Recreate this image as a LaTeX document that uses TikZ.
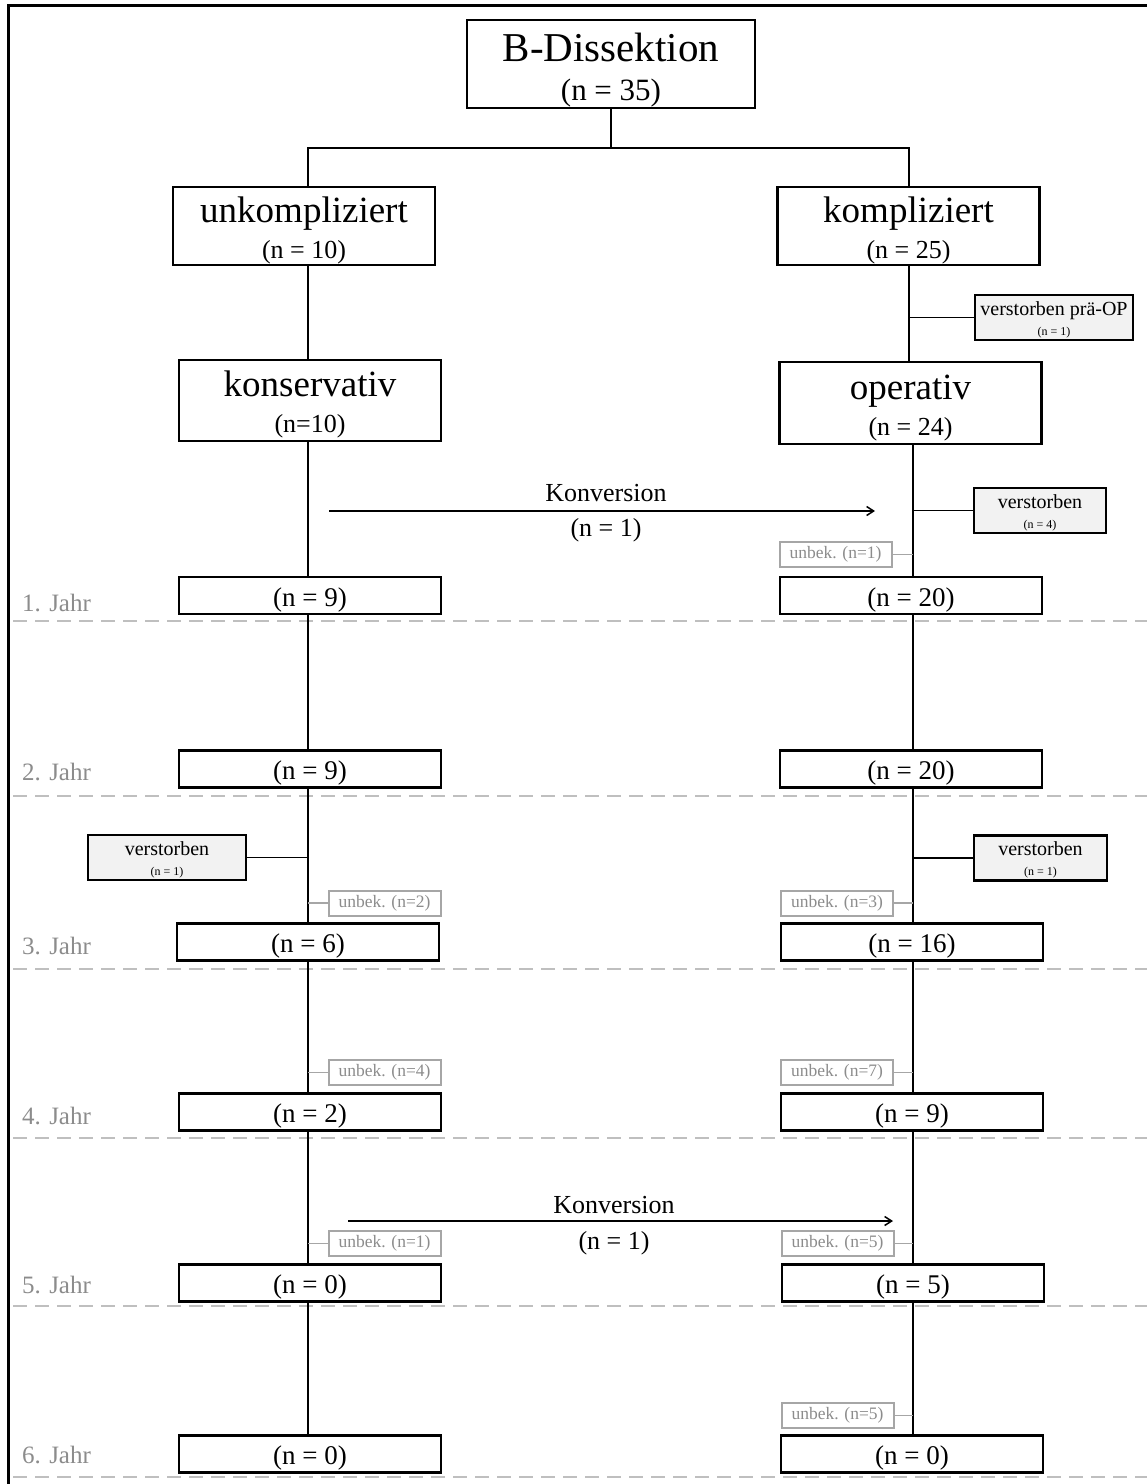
\documentclass[tikz,border=0pt]{standalone}
\usepackage{fontspec}
\setmainfont{Liberation Serif}
\usetikzlibrary{arrows.meta}
\definecolor{hellgrau}{HTML}{F2F2F2}
\definecolor{textgrau}{HTML}{8C8C8C}
\definecolor{rahmengrau}{HTML}{A6A6A6}
\definecolor{strichgrau}{HTML}{BFBFBF}
\newcommand{\hoch}[1]{\rule{0pt}{#1pt}}

\begin{document}
\begin{tikzpicture}[x=1pt,y=-1pt,
  hauptbox/.style={draw, line width=2.8pt, inner sep=0pt, minimum width=262pt, minimum height=78pt, align=center, font=\fontsize{37}{36}\selectfont},
  jahrbox/.style={draw, line width=2.8pt, inner sep=0pt, minimum width=262pt, minimum height=37pt, text height=25pt, text depth=4pt, font=\fontsize{27}{30}\selectfont},
  totbox/.style={draw, line width=2.8pt, fill=hellgrau, inner sep=0pt, minimum height=45pt, align=center, font=\fontsize{20}{20}\selectfont},
  unbbox/.style={draw=rahmengrau, text=textgrau, line width=2pt, inner sep=0pt, minimum width=112pt, minimum height=25pt, font=\fontsize{17.5}{20}\selectfont},
  jahr/.style={anchor=west, inner sep=0pt, text=textgrau, font=\fontsize{25}{28}\selectfont},
  konv/.style={inner sep=0pt, font=\fontsize{26}{28}\selectfont},
  linie/.style={line width=1.5pt},
  unblinie/.style={line width=1.5pt, draw=rahmengrau},
  grenze/.style={dash pattern=on 14pt off 8pt, line width=2pt, draw=strichgrau}]
\useasboundingbox (0,0) rectangle (1147,1484);
\draw[line width=3pt] (8,1484) -- (8,5) -- (1147,5);

% Trennlinien der Jahre
\draw[grenze] (13,621) -- (1147,621);
\draw[grenze] (13,796) -- (1147,796);
\draw[grenze] (13,969) -- (1147,969);
\draw[grenze] (13,1138) -- (1147,1138);
\draw[grenze] (13,1306) -- (1147,1306);
\draw[grenze] (13,1477) -- (1147,1477);

\node[jahr] (j1) at (22,603) {1. Jahr};
\node[jahr] (j2) at (22,772) {2. Jahr};
\node[jahr] (j3) at (22,946) {3. Jahr};
\node[jahr] (j4) at (22,1116) {4. Jahr};
\node[jahr] (j5) at (22,1285) {5. Jahr};
\node[jahr] (j6) at (22,1455) {6. Jahr};

\coordinate (lx) at (308,0);
\coordinate (rxo) at (909,0);
\coordinate (rx) at (913,0);
\coordinate (gabel) at (0,148);

% oberer Teil
\node[draw, line width=2.8pt, inner sep=0pt, minimum width=288pt, minimum height=88pt, align=center, font=\fontsize{41}{39}\selectfont] (dissektion) at (611,64) {\hoch{41}B-Dissektion\\{\fontsize{31}{31}\selectfont (n = 35)}};

\node[hauptbox] (unkompl) at (304,226) {\hoch{34}unkompliziert\\{\fontsize{26}{26}\selectfont (n = 10)}};
\node[hauptbox] (kompl) at (908.5,226) {\hoch{34}kompliziert\\{\fontsize{26}{26}\selectfont (n = 25)}};
\node[hauptbox, minimum height=81pt] (konserv) at (310,400.5) {\hoch{33}konservativ\\{\fontsize{26}{26}\selectfont (n=10)}};
\node[hauptbox, minimum height=82pt] (operativ) at (910.5,403) {\hoch{34}operativ\\{\fontsize{26}{26}\selectfont (n = 24)}};
\node[totbox, minimum width=158pt] (praeop) at (1054,317.5) {\hoch{18}verstorben prä-OP\\{\fontsize{12}{12}\selectfont (n = 1)}};

\draw[linie] (dissektion.south) -- (dissektion.south |- gabel);
\draw[linie] (unkompl.north -| lx) -- (gabel -| lx) -- (gabel -| rxo) -- (kompl.north -| rxo);
\draw[linie] (unkompl.south -| lx) -- (konserv.north -| lx);
\draw[linie] (kompl.south -| rxo) -- (operativ.north -| rxo);
\draw[linie] (praeop.west) -- (praeop.west -| rxo);

% Jahre
\node[jahrbox] (l1) at (310,595.5) {(n = 9)};
\node[jahrbox] (r1) at (911,595.5) {(n = 20)};
\node[jahrbox] (l2) at (310,769) {(n = 9)};
\node[jahrbox] (r2) at (911,769) {(n = 20)};
\node[jahrbox] (l3) at (308,942) {(n = 6)};
\node[jahrbox] (r3) at (912,942) {(n = 16)};
\node[jahrbox] (l4) at (310,1112) {(n = 2)};
\node[jahrbox] (r4) at (912,1112) {(n = 9)};
\node[jahrbox] (l5) at (310,1283) {(n = 0)};
\node[jahrbox] (r5) at (913,1283) {(n = 5)};
\node[jahrbox] (l6) at (310,1454) {(n = 0)};
\node[jahrbox] (r6) at (912,1454) {(n = 0)};

\draw[linie] (konserv.south -| lx) -- (l1.north -| lx);
\draw[linie] (l1.south -| lx) -- (l2.north -| lx);
\draw[linie] (l2.south -| lx) -- (l3.north -| lx);
\draw[linie] (l3.south -| lx) -- (l4.north -| lx);
\draw[linie] (l4.south -| lx) -- (l5.north -| lx);
\draw[linie] (l5.south -| lx) -- (l6.north -| lx);
\draw[linie] (operativ.south -| rx) -- (r1.north -| rx);
\draw[linie] (r1.south -| rx) -- (r2.north -| rx);
\draw[linie] (r2.south -| rx) -- (r3.north -| rx);
\draw[linie] (r3.south -| rx) -- (r4.north -| rx);
\draw[linie] (r4.south -| rx) -- (r5.north -| rx);
\draw[linie] (r5.south -| rx) -- (r6.north -| rx);

% verstorben
\node[totbox, minimum width=132pt] (tot1) at (1040,510.5) {\hoch{18}verstorben\\{\fontsize{12}{12}\selectfont (n = 4)}};
\node[totbox, minimum width=158pt] (tot2) at (167,857.5) {\hoch{18}verstorben\\{\fontsize{12}{12}\selectfont (n = 1)}};
\node[totbox, minimum width=133pt] (tot3) at (1040.5,858) {\hoch{18}verstorben\\{\fontsize{12}{12}\selectfont (n = 1)}};
\draw[linie] (tot1.west) -- (tot1.west -| rx);
\draw[linie] (tot2.east) -- (tot2.east -| lx);
\draw[linie] (tot3.west) -- (tot3.west -| rx);

% unbekannt
\node[unbbox] (unb1) at (835.5,554.5) {unbek. (n=1)};
\node[unbbox] (unb2) at (384.5,903) {unbek. (n=2)};
\node[unbbox] (unb3) at (837,903) {unbek. (n=3)};
\node[unbbox] (unb4) at (384.5,1072.5) {unbek. (n=4)};
\node[unbbox] (unb7) at (837,1072.5) {unbek. (n=7)};
\node[unbbox] (unb1b) at (384.5,1243.5) {unbek. (n=1)};
\node[unbbox] (unb5a) at (837.5,1243.5) {unbek. (n=5)};
\node[unbbox] (unb5b) at (837.5,1415.5) {unbek. (n=5)};
\draw[unblinie] (unb1.east) -- (unb1.east -| rx);
\draw[unblinie] (unb2.west) -- (unb2.west -| lx);
\draw[unblinie] (unb3.east) -- (unb3.east -| rx);
\draw[unblinie] (unb4.west) -- (unb4.west -| lx);
\draw[unblinie] (unb7.east) -- (unb7.east -| rx);
\draw[unblinie] (unb1b.west) -- (unb1b.west -| lx);
\draw[unblinie] (unb5a.east) -- (unb5a.east -| rx);
\draw[unblinie] (unb5b.east) -- (unb5b.east -| rx);

% Konversion
\coordinate (k1start) at (329,511);
\coordinate (k1ende) at (875,511);
\draw[linie, -{Straight Barb[length=7pt,width=9pt]}] (k1start) -- (k1ende);
\node[konv] (konv1) at (606,493) {Konversion};
\node[konv] (konv1n) at (606,530) {(n = 1)};
\coordinate (k2start) at (348,1221);
\coordinate (k2ende) at (893,1221);
\draw[linie, -{Straight Barb[length=7pt,width=9pt]}] (k2start) -- (k2ende);
\node[konv] (konv2) at (614,1205) {Konversion};
\node[konv] (konv2n) at (614,1243) {(n = 1)};
\end{tikzpicture}
\end{document}
